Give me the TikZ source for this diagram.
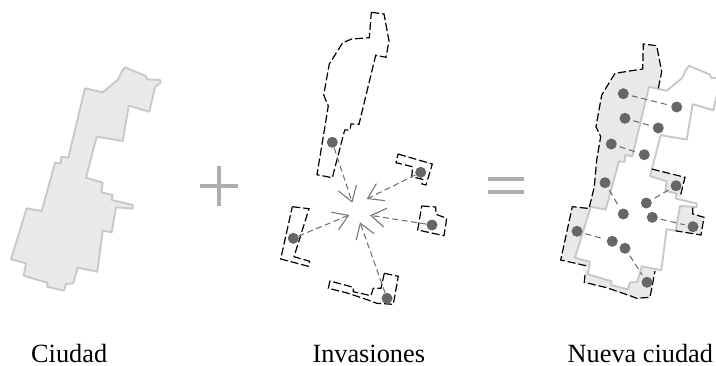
\documentclass[tikz,border=0pt]{standalone}
\usepackage{fontspec}
\setmainfont{Liberation Serif}
\usetikzlibrary{arrows.meta}
\definecolor{cityfill}{HTML}{E9E9E9}
\definecolor{cityline}{HTML}{C8C8C8}
\definecolor{dotgray}{HTML}{666666}
\definecolor{arrowgray}{HTML}{777777}
\definecolor{signgray}{HTML}{AEAEAE}
\tikzset{
  cityshape/.style={draw=cityline,line width=1.9pt,line join=round},
  invborder/.style={draw=black,line width=1.2pt,dash pattern=on 8pt off 3pt,line join=miter},
  sitedot/.style={circle,fill=dotgray,draw=none,inner sep=0pt,minimum size=11pt},
  inflow/.style={draw=arrowgray,line width=1.1pt,dash pattern=on 6pt off 3.5pt,
     -{Straight Barb[length=14.5pt,width=19pt,line width=1.1pt]}},
  sitelink/.style={draw=dotgray,line width=1pt,dash pattern=on 6pt off 4pt,shorten <=3pt,shorten >=3pt},
  signbar/.style={draw=signgray,line width=4.3pt},
  caption/.style={anchor=base west,inner sep=0pt,font=\fontsize{26.3}{30}\selectfont,text=black}
}
\newcommand{\cityoutline}{(125,67.3) -- (145.7,76) -- (147.3,79.3) -- (160,80) -- (160.7,82.3) -- (155,87.3) -- (149.3,111.7) -- (128.7,105.7) -- (122.7,141) -- (96.7,136.7) -- (86,177.7) -- (102.7,182.7) -- (101.3,192.3) -- (112.7,195) -- (111.7,200) -- (132.7,205) -- (132.7,208.7) -- (116,207.3) -- (111.7,232.3) -- (102.7,230.7) -- (97.3,271.7) -- (77.7,267.7) -- (73.3,283.3) -- (66,284) -- (64,290.7) -- (47.3,286.7) -- (47.3,282.7) -- (23.7,275.7) -- (26,263.3) -- (11,259.3) -- (26.7,208.3) -- (41.7,211) -- (55,162.7) -- (60.7,163.3) -- (61.3,156.7) -- (68.3,157.7) -- (85,88.3) -- (102.7,92.3) -- (118.3,79.3) -- (121.7,71.7) -- cycle}
\begin{document}
\begin{tikzpicture}[x=1pt,y=-1pt]
\useasboundingbox (0,0) rectangle (716,365);
\clip (0,0) rectangle (716,365);
% --- Ciudad
\fill[cityfill] \cityoutline;
\draw[cityshape] \cityoutline;
% --- signs
\draw[signbar] (200,186) -- (237.7,186);
\draw[signbar] (219,166) -- (219,206);
\draw[signbar] (488.3,179) -- (524,179);
\draw[signbar] (488.3,191.7) -- (524,191.7);
% --- Invasiones
\draw[invborder] (371.3,12.3) -- (384,14) -- (389,40.7) -- (386,57.3) -- (375.7,55.3) -- (359,124.3) -- (351,124) -- (350,130) -- (344.7,130) -- (332.3,177.7) -- (317,174.7) -- (328.3,106) -- (323.7,95) -- (329.3,64) -- (342.7,42.7) -- (351.7,39) -- (369.3,37.7) -- cycle;
\draw[invborder] (398,154) -- (432.3,164) -- (426,185) -- (422,184) -- (422.7,179.3) -- (411.7,176.7) -- (412.7,166.7) -- (396,162.7) -- cycle;
\draw[invborder] (421.7,206) -- (435.7,207) -- (436,214.3) -- (446.7,218.3) -- (444,235.7) -- (417.7,230) -- cycle;
\draw[invborder] (292.3,206.7) -- (309,208.7) -- (294,256.7) -- (309.7,261.3) -- (308.3,266.3) -- (280.7,259) -- cycle;
\draw[invborder] (384.3,273.3) -- (398.3,276.3) -- (393.3,304.3) -- (376.7,303.3) -- (370,300.7) -- (348.3,293.3) -- (328.3,288.3) -- (330,281) -- (353.3,287.3) -- (353.3,291.7) -- (371,295.7) -- (373.3,288.3) -- (381,288.3) -- cycle;
\node[sitedot] (s1) at (332.3,142.3) {};
\node[sitedot] (s2) at (420.7,172.3) {};
\node[sitedot] (s3) at (432,225) {};
\node[sitedot] (s4) at (293.3,238.3) {};
\node[sitedot] (s5) at (387,298.3) {};
\coordinate (t1) at (352.3,202.7);
\coordinate (t2) at (366.7,199);
\coordinate (t3) at (370,215.3);
\coordinate (t4) at (349.3,215);
\coordinate (t5) at (360,222.3);
\draw[inflow] (s1) -- (t1);
\draw[inflow] (s2) -- (t2);
\draw[inflow] (s3) -- (t3);
\draw[inflow] (s4) -- (t4);
\draw[inflow] (s5) -- (t5);
% --- Nueva ciudad: invaded areas
\fill[cityfill] (643.3,44) -- (656.7,45.7) -- (661.7,71.7) -- (658.3,88.3) -- (640,130) -- (632,157) -- (619,161) -- (605.7,209.5) -- (589,208.5) -- (594.3,186.7) -- (596.7,160) -- (600.7,136.7) -- (596,126.7) -- (601.7,95) -- (615,73.3) -- (631.7,70.7) -- (642.7,69) -- cycle;
\fill[cityfill] (572.3,206.7) -- (592,207.5) -- (600,235) -- (590,266) -- (587.3,266) -- (560.7,260) -- cycle;
\fill[cityfill] (585,270) -- (655,262) -- (655,271) -- (650,297.3) -- (636.7,298.3) -- (630,295.7) -- (606.7,287.7) -- (584.3,282.3) -- cycle;
\fill[cityfill] (650,176) -- (651.7,169) -- (685,177.3) -- (680,197.3) -- (670,197) -- cycle;
\fill[cityfill] (680,206) -- (692.7,206) -- (692.7,214) -- (704,217.3) -- (701,235) -- (672,231) -- cycle;
% --- Nueva ciudad: city on top
\begin{scope}[shift={(564,-1.5)}]
\fill[white] \cityoutline;
\draw[cityshape] \cityoutline;
\end{scope}
% --- Nueva ciudad: outer borders
\draw[invborder] (658.3,88.3) -- (661.7,71.7) -- (656.7,45.7) -- (643.3,44) -- (642.7,69) -- (631.7,70.7) -- (615,73.3) -- (601.7,95) -- (596,126.7) -- (600.7,136.7) -- (596.7,160) -- (594.3,186.7) -- (589,208.5) -- (572.3,206.7) -- (560.7,260) -- (587.3,266);
\draw[invborder] (585,275) -- (584.3,282.3) -- (606.7,287.7) -- (630,295.7) -- (636.7,298.3) -- (650,297.3) -- (655,271);
\draw[invborder] (651.7,169) -- (685,177.3) -- (680,197.3);
\draw[invborder] (692.7,207.5) -- (692.7,214) -- (704,217.3) -- (701,235) -- (675.7,230.8);
% --- Nueva ciudad: dots and links
\node[sitedot] (n1) at (623.3,93.7) {};
\node[sitedot] (n2) at (625,118.3) {};
\node[sitedot] (n3) at (611.3,144) {};
\node[sitedot] (n4) at (676.7,107) {};
\node[sitedot] (n5) at (658.3,128) {};
\node[sitedot] (n6) at (644.3,154.7) {};
\node[sitedot] (n7) at (605,182.7) {};
\node[sitedot] (n8) at (623.3,214) {};
\node[sitedot] (n9) at (676,185.7) {};
\node[sitedot] (n10) at (646.3,203) {};
\node[sitedot] (n11) at (652.3,217.3) {};
\node[sitedot] (n12) at (693,226.7) {};
\node[sitedot] (n13) at (577,231.3) {};
\node[sitedot] (n14) at (612.3,241.3) {};
\node[sitedot] (n15) at (625,248.3) {};
\node[sitedot] (n16) at (647,282.3) {};
\draw[sitelink] (n1) -- (n4);
\draw[sitelink] (n2) -- (n5);
\draw[sitelink] (n3) -- (n6);
\draw[sitelink] (n7) -- (n8);
\draw[sitelink] (n9) -- (n10);
\draw[sitelink] (n11) -- (n12);
\draw[sitelink] (n13) -- (n14);
\draw[sitelink] (n15) -- (n16);
% --- captions
\node[caption] (c1) at (31,362) {Ciudad};
\node[caption] (c2) at (312.3,362) {Invasiones};
\node[caption] (c3) at (567.5,362) {Nueva ciudad};
\end{tikzpicture}
\end{document}
